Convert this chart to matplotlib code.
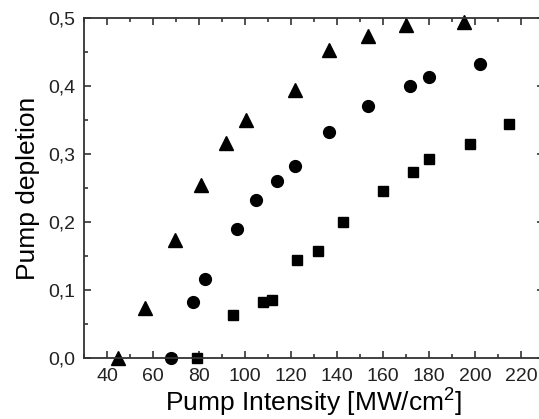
import matplotlib
matplotlib.use("Agg")
import matplotlib.pyplot as plt
from matplotlib.ticker import MultipleLocator, FuncFormatter

plt.rcParams["font.family"] = ["Liberation Sans", "DejaVu Sans"]
plt.rcParams["mathtext.fontset"] = "custom"
plt.rcParams["mathtext.rm"] = "Liberation Sans"

# pump intensity [MW/cm^2] and pump depletion for the three data sets
tri_x = [44.8, 56.7, 69.7, 80.7, 91.6, 100.5, 121.8, 136.7, 153.6, 169.9, 195.0]
tri_y = [0.0, 0.073, 0.174, 0.254, 0.316, 0.350, 0.394, 0.453, 0.474, 0.490, 0.494]

circ_x = [68.0, 77.4, 82.6, 96.6, 104.6, 113.7, 121.8, 136.7, 153.6, 171.8, 179.8, 202.0]
circ_y = [0.0, 0.083, 0.116, 0.189, 0.232, 0.260, 0.283, 0.333, 0.370, 0.400, 0.413, 0.433]

sq_x = [79.2, 94.7, 107.7, 111.7, 122.7, 131.8, 142.7, 159.9, 172.9, 179.8, 198.0, 214.7]
sq_y = [0.0, 0.063, 0.083, 0.086, 0.144, 0.158, 0.200, 0.245, 0.273, 0.293, 0.315, 0.344]

fig = plt.figure(figsize=(5.39, 4.19), dpi=100)
# right spine sits just past the image edge, like the original crop
ax = fig.add_axes([84 / 539, 1 - 358 / 419, 460 / 539, 340 / 419])

ax.plot(tri_x, tri_y, "^", color="black", markersize=9.5, clip_on=False)
ax.plot(circ_x, circ_y, "o", color="black", markersize=8.5, clip_on=False)
ax.plot(sq_x, sq_y, "s", color="black", markersize=7.5, clip_on=False)

ax.set_xlim(30, 230)
ax.set_ylim(0, 0.5)
ax.xaxis.set_major_locator(MultipleLocator(20))
ax.xaxis.set_minor_locator(MultipleLocator(10))
ax.yaxis.set_major_locator(MultipleLocator(0.1))
ax.yaxis.set_minor_locator(MultipleLocator(0.05))
ax.xaxis.set_major_formatter(FuncFormatter(lambda v, p: "" if v > 225 or v < 35 else f"{v:.0f}"))
ax.yaxis.set_major_formatter(FuncFormatter(lambda v, p: f"{v:.1f}".replace(".", ",")))

ax.tick_params(which="both", direction="in", top=True, right=True, width=1.1,
               labelsize=14, colors="#222222")
ax.tick_params(which="major", length=5)
ax.tick_params(axis="x", which="major", pad=7)
ax.tick_params(axis="y", which="major", pad=6)
ax.tick_params(which="minor", length=3)
for s in ax.spines.values():
    s.set_linewidth(1.3)
    s.set_color("#333333")

ax.set_xlabel("Pump Intensity [MW/cm$^\\mathregular{2}$]", fontsize=19, labelpad=0)
ax.set_ylabel("Pump depletion", fontsize=19, labelpad=6)

fig.savefig("out.png", dpi=100)
